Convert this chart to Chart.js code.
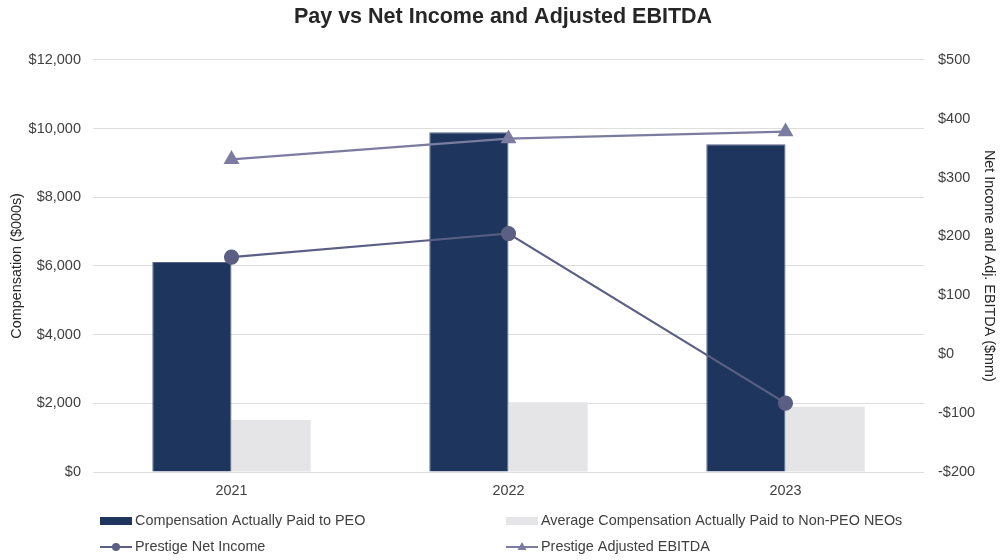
<!DOCTYPE html>
<html>
<head>
<meta charset="utf-8">
<script src="https://cdn.jsdelivr.net/npm/chart.js@4.4.1/dist/chart.umd.min.js"></script>
<style>
  html, body { margin: 0; padding: 0; background: #ffffff; }
  #wrap { position: relative; width: 1000px; height: 560px; }
</style>
</head>
<body>
<div id="wrap"><canvas id="chart" width="1000" height="560"></canvas></div>
<script>
// Fiscal years on the category axis
const years = ['2021', '2022', '2023'];

// Compensation actually paid ($000s)
const peoComp = [6115, 9890, 9540];
const nonPeoComp = [1515, 2030, 1900];

// Company results ($mm)
const netIncome = [165, 205, -83];
const adjEbitda = [331, 366, 378];

// Axis ticks
const leftTicks = [0, 2000, 4000, 6000, 8000, 10000, 12000];
const rightTicks = [-200, -100, 0, 100, 200, 300, 400, 500];

const FONT = '"Liberation Sans", Arial, sans-serif';
const TEXT = '#404040';

const fmtMoney = v => (v < 0 ? '-$' : '$') + Math.abs(v).toLocaleString('en-US');

// Two-column legend drawn under the plot
const legendGrid = {
  id: 'legendGrid',
  afterDraw(chart) {
    const ctx = chart.ctx;
    const spots = [
      { i: 0, x: 100, y: 521 },
      { i: 1, x: 506, y: 521 },
      { i: 2, x: 100, y: 547 },
      { i: 3, x: 506, y: 547 }
    ];
    ctx.save();
    ctx.font = '14.4px ' + FONT;
    ctx.textBaseline = 'middle';
    spots.forEach(s => {
      const ds = chart.data.datasets[s.i];
      if (ds.type === 'bar') {
        ctx.fillStyle = ds.backgroundColor;
        ctx.fillRect(s.x, s.y - 4, 32, 8);
      } else {
        ctx.strokeStyle = ds.borderColor;
        ctx.lineWidth = 2;
        ctx.beginPath();
        ctx.moveTo(s.x, s.y);
        ctx.lineTo(s.x + 32, s.y);
        ctx.stroke();
        ctx.fillStyle = ds.pointBackgroundColor;
        const cx = s.x + 16;
        ctx.beginPath();
        if (ds.pointStyle === 'triangle') {
          ctx.moveTo(cx, s.y - 5);
          ctx.lineTo(cx + 4.5, s.y + 3);
          ctx.lineTo(cx - 4.5, s.y + 3);
          ctx.closePath();
        } else {
          ctx.arc(cx, s.y, 4, 0, Math.PI * 2);
        }
        ctx.fill();
      }
      ctx.fillStyle = TEXT;
      ctx.fillText(ds.label, s.x + 35, s.y);
    });
    ctx.restore();
  }
};

new Chart(document.getElementById('chart'), {
  data: {
    labels: years,
    datasets: [
      {
        type: 'bar',
        label: 'Compensation Actually Paid to PEO',
        data: peoComp,
        backgroundColor: '#1e355e',
        borderColor: '#56648a',
        borderWidth: 1,
        yAxisID: 'y',
        order: 2,
        categoryPercentage: 0.572,
        barPercentage: 1.0
      },
      {
        type: 'bar',
        label: 'Average Compensation Actually Paid to Non-PEO NEOs',
        data: nonPeoComp,
        backgroundColor: '#e5e5e7',
        borderWidth: 0,
        yAxisID: 'y',
        order: 2,
        categoryPercentage: 0.572,
        barPercentage: 1.0
      },
      {
        type: 'line',
        label: 'Prestige Net Income',
        data: netIncome,
        borderColor: '#5b5f83',
        backgroundColor: '#5b5f83',
        pointBackgroundColor: '#5b5f83',
        pointBorderColor: '#5b5f83',
        pointStyle: 'circle',
        pointRadius: 6.5,
        borderWidth: 2.2,
        yAxisID: 'y1',
        order: 0
      },
      {
        type: 'line',
        label: 'Prestige Adjusted EBITDA',
        data: adjEbitda,
        borderColor: '#7b7c9f',
        backgroundColor: '#7b7c9f',
        pointBackgroundColor: '#7b7c9f',
        pointBorderColor: '#7b7c9f',
        pointStyle: 'triangle',
        pointRadius: 7,
        borderWidth: 2.2,
        yAxisID: 'y1',
        order: 1
      }
    ]
  },
  options: {
    responsive: false,
    animation: false,
    layout: { padding: { left: 8, right: 2, top: 0, bottom: 60 } },
    plugins: {
      legend: { display: false },
      tooltip: { enabled: false },
      title: {
        display: true,
        text: 'Pay vs Net Income and Adjusted EBITDA',
        color: '#262626',
        font: { family: FONT, size: 21.5, weight: 'bold' },
        padding: { top: 4, bottom: 30 }
      }
    },
    scales: {
      x: {
        grid: { display: false, drawTicks: false },
        border: { display: false },
        ticks: { color: TEXT, font: { family: FONT, size: 14.4 }, padding: 10 },
        afterFit(scale) { scale.height = 28; }
      },
      y: {
        position: 'left',
        min: 0,
        max: 12000,
        afterBuildTicks(scale) { scale.ticks = leftTicks.map(v => ({ value: v })); },
        ticks: {
          color: TEXT,
          font: { family: FONT, size: 14.5 },
          padding: 12,
          callback: v => fmtMoney(v)
        },
        grid: { color: '#dedede', lineWidth: 1, drawTicks: false },
        border: { display: false },
        title: {
          display: true,
          text: 'Compensation ($000s)',
          color: '#262626',
          font: { family: FONT, size: 14.4 },
          padding: { top: 0, bottom: 0 }
        },
        afterFit(scale) { scale.width = 85; }
      },
      y1: {
        position: 'right',
        min: -200,
        max: 500,
        afterBuildTicks(scale) { scale.ticks = rightTicks.map(v => ({ value: v })); },
        ticks: {
          color: TEXT,
          font: { family: FONT, size: 14.5 },
          padding: 14,
          callback: v => fmtMoney(v)
        },
        grid: { display: false, drawTicks: false },
        border: { display: false },
        title: {
          display: true,
          text: 'Net Income and Adj. EBITDA ($mm)',
          color: '#262626',
          font: { family: FONT, size: 14.4 },
          padding: { top: 0, bottom: 0 }
        },
        afterFit(scale) { scale.width = 74; }
      }
    }
  },
  plugins: [legendGrid]
});
</script>
</body>
</html>
